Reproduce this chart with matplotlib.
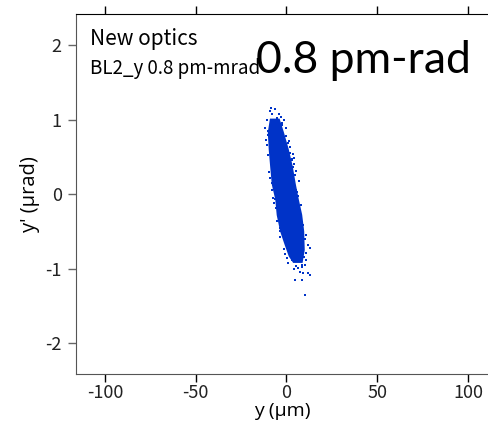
import numpy as np
import matplotlib.pyplot as plt

plt.rcParams['axes.unicode_minus'] = False

# dense core of the beam distribution (outline), y in um, y' in urad
core_y = [-8.6, -9.7, -9.2, -8.4, -7.5, -5.6, -4.8, -2.9, -0.4, 1.8, 4.0,
          8.4, 9.5, 9.2, 8.1, 6.2, 4.6, 2.9, 0.7, -2.0, -4.2]
core_yp = [1.00, 0.83, 0.60, 0.37, 0.13, -0.07, -0.28, -0.50, -0.68, -0.83, -0.91,
           -0.91, -0.75, -0.50, -0.28, -0.07, 0.13, 0.37, 0.60, 0.83, 1.00]

# sparse particles around the core
halo_y = [-8.6, -6.4, -9.2, -7.9, -4.2, -10.5, -1.3, -11.9, -0.4, -5.5,
          -10.1, -11.0, 0.9, -9.2, 1.8, 3.6, 2.8, -8.3, 4.2,
          -7.4, -6.4, 5.5, 6.4, -4.6, 7.3, 8.3, -3.7, 7.3, 4.6, 3.6, -7.9,
          -3.7, 11.9, 12.8, 0.9, 2.8, 11.0, 10.1, 5.5, 7.3, 9.1, 11.9, 12.8,
          4.6, 8.3, 10.4, 6.4, 4.2, 8.6,
          -10.3, -10.6, -9.9, -9.4, -8.9, -8.2, -6.9, -6.0, -5.1, -3.5, -1.6, 0.2,
          -2.6, -0.5, 1.2, 3.1, 5.1, 6.8, 7.9, 9.0, 10.2, 10.6, 9.8, 8.8, 7.0,
          -3.0, -5.2, -6.8, -2.2, 2.0, 4.2, 6.0, 10.8, -0.8]
halo_yp = [1.15, 1.14, 1.12, 1.07, 1.07, 0.99, 0.99, 0.89, 0.89, 0.97,
           0.80, 0.73, 0.69, 0.62, 0.55, 0.54, 0.46, 0.44, 0.40,
           -0.05, -0.07, 0.06, -0.03, -0.25, -0.28, -0.37, -0.45, -0.50, 0.26, 0.37, 0.15,
           -0.50, -0.68, -0.72, -0.92, -0.88, -0.88, -0.95, -0.97, -1.04, -1.06, -1.06, -1.08,
           -1.16, -1.16, -1.35, -0.99, -1.01, -0.98,
           0.85, 0.66, 0.52, 0.30, 0.21, 0.05, -0.12, -0.18, -0.36, -0.58, -0.74, -0.86,
           0.93, 0.78, 0.71, 0.47, 0.31, 0.18, -0.15, -0.42, -0.60, -0.79, -0.84, -0.95, -0.90,
           1.03, 1.02, 0.94, 0.95, 0.63, 0.49, 0.03, -0.55, -0.80]

x_ticks = [-100, -50, 0, 50, 100]
y_ticks = [-2, -1, 0, 1, 2]

blue = '#0033c8'
jp = ['Noto Sans CJK JP', 'DejaVu Sans']
os_ = ['Open Sans', 'DejaVu Sans']

fig = plt.figure(figsize=(4.88, 4.22), dpi=100)
ax = fig.add_axes([0.155, 0.113, 0.845, 0.854])

ax.fill(core_y, core_yp, color=blue, lw=1.5, ec=blue)
ax.scatter(halo_y, halo_yp, s=3.5, marker='s', color=blue, linewidths=0)

ax.set_xlim(-116.1, 111.0)
ax.set_ylim(-2.42, 2.42)
ax.set_xticks(x_ticks)
ax.set_yticks(y_ticks)

ax.spines['right'].set_visible(False)
ax.spines['left'].set_color('#555555')
ax.spines['bottom'].set_color('#555555')
ax.spines['top'].set_color('black')

ax.tick_params(axis='x', direction='out', length=6, width=1, color='black',
               top=True, labeltop=False, pad=1, labelsize=13, labelcolor='#222222')
ax.tick_params(axis='y', direction='out', length=6, width=1, color='#666666',
               pad=4, labelsize=13, labelcolor='#222222')
for lab in ax.get_xticklabels() + ax.get_yticklabels():
    lab.set_family(jp)

ax.set_xlabel('y (μm)', fontsize=14, family=os_, labelpad=0)
ax.set_ylabel("y' (μrad)", fontsize=14.5, family=os_, labelpad=4)

# annotations (positions in figure pixels from the top-left)
fig.text(90 / 488, 1 - 44.5 / 422, 'New optics', fontsize=15, family=jp, va='baseline')
fig.text(90 / 488, 1 - 74 / 422, 'BL2_y 0.8 pm-mrad', fontsize=13.5, family=jp, va='baseline')
fig.text(256 / 488, 1 - 73 / 422, '0.8 pm-rad', fontsize=32, family=['Lato', 'DejaVu Sans'],
         va='baseline')

fig.savefig('out.png', dpi=100)
